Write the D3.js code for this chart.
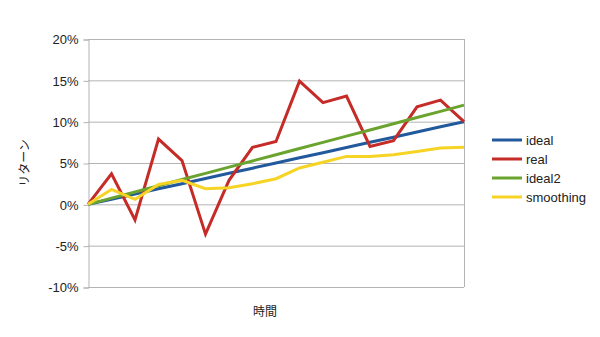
<!DOCTYPE html>
<html>
<head>
<meta charset="utf-8">
<script src="https://cdn.jsdelivr.net/npm/d3@7"></script>
<style>
  body { margin: 0; background: #fff; }
  text { font-family: "Liberation Sans", Arial, sans-serif; fill: #222; }
</style>
</head>
<body>
<svg id="chart" width="600" height="337"></svg>
<script>
// values in %, one per time step
var steps = d3.range(17);
var ideal = [0, 0.625, 1.25, 1.875, 2.5, 3.125, 3.75, 4.375, 5, 5.625, 6.25, 6.875, 7.5, 8.125, 8.75, 9.375, 10];
var real = [0, 3.7, -1.9, 7.9, 5.3, -3.6, 2.9, 6.9, 7.6, 14.9, 12.3, 13.1, 7.0, 7.7, 11.8, 12.6, 10.0];
var ideal2 = [0, 0.75, 1.5, 2.25, 3, 3.75, 4.5, 5.25, 6, 6.75, 7.5, 8.25, 9, 9.75, 10.5, 11.25, 12];
var smoothing = [0, 1.8, 0.6, 2.4, 2.9, 1.9, 2.0, 2.5, 3.1, 4.4, 5.1, 5.8, 5.8, 6.0, 6.4, 6.8, 6.9];
var yTicks = [-10, -5, 0, 5, 10, 15, 20];

var seriesList = [
  { name: "ideal", values: ideal, color: "#22599c" },
  { name: "real", values: real, color: "#c52b27" },
  { name: "ideal2", values: ideal2, color: "#6aa42f" },
  { name: "smoothing", values: smoothing, color: "#f6d426" }
];

var svg = d3.select("#chart");
var plotLeft = 88, plotRight = 464, plotTop = 39, plotBottom = 287;

var x = d3.scaleLinear().domain([0, steps.length - 1]).range([plotLeft, plotRight]);
var y = d3.scaleLinear().domain([-10, 20]).range([plotBottom, plotTop]);

// grid
svg.append("g")
  .selectAll("line")
  .data(yTicks)
  .enter()
  .append("line")
  .attr("x1", plotLeft)
  .attr("x2", plotRight)
  .attr("y1", function (d) { return y(d) + 0.5; })
  .attr("y2", function (d) { return y(d) + 0.5; })
  .style("stroke", "#b3b3b3")
  .style("stroke-width", 1);

// right border
svg.append("line")
  .attr("x1", plotRight + 0.5).attr("x2", plotRight + 0.5)
  .attr("y1", plotTop).attr("y2", plotBottom)
  .style("stroke", "#b3b3b3");

// y axis
var yAxis = svg.append("g")
  .attr("transform", "translate(" + (plotLeft + 0.5) + ",0.5)")
  .call(d3.axisLeft(y).tickValues(yTicks).tickSize(5).tickPadding(5)
    .tickFormat(function (d) { return d + "%"; }));
yAxis.select(".domain").style("stroke", "#b3b3b3");
yAxis.selectAll(".tick line").style("stroke", "#b3b3b3");
yAxis.selectAll("text")
  .style("font-family", "'Liberation Sans', Arial, sans-serif")
  .style("font-size", "13px")
  .style("fill", "#222");

// lines
var line = d3.line()
  .x(function (d, i) { return x(steps[i]); })
  .y(function (d) { return y(d); });

seriesList.forEach(function (s) {
  svg.append("path")
    .datum(s.values)
    .attr("d", line)
    .style("fill", "none")
    .style("stroke", s.color)
    .style("stroke-width", 3)
    .style("stroke-linejoin", "miter");
});

// axis titles
svg.append("text")
  .attr("transform", "translate(29,163) rotate(-90)")
  .attr("text-anchor", "middle")
  .style("font-family", "'Noto Sans CJK JP', sans-serif")
  .style("font-size", "12px")
  .text("リターン");

svg.append("text")
  .attr("x", 265)
  .attr("y", 316)
  .attr("text-anchor", "middle")
  .style("font-family", "'Noto Sans CJK JP', sans-serif")
  .style("font-size", "12px")
  .text("時間");

// legend
var legend = svg.append("g")
  .selectAll("g")
  .data(seriesList)
  .enter()
  .append("g")
  .attr("transform", function (d, i) { return "translate(492," + (140 + i * 19) + ")"; });
legend.append("line")
  .attr("x1", 0).attr("x2", 30)
  .style("stroke", function (d) { return d.color; })
  .style("stroke-width", 3);
legend.append("text")
  .attr("x", 34)
  .attr("dy", "0.35em")
  .style("font-size", "13px")
  .text(function (d) { return d.name; });
</script>
</body>
</html>
